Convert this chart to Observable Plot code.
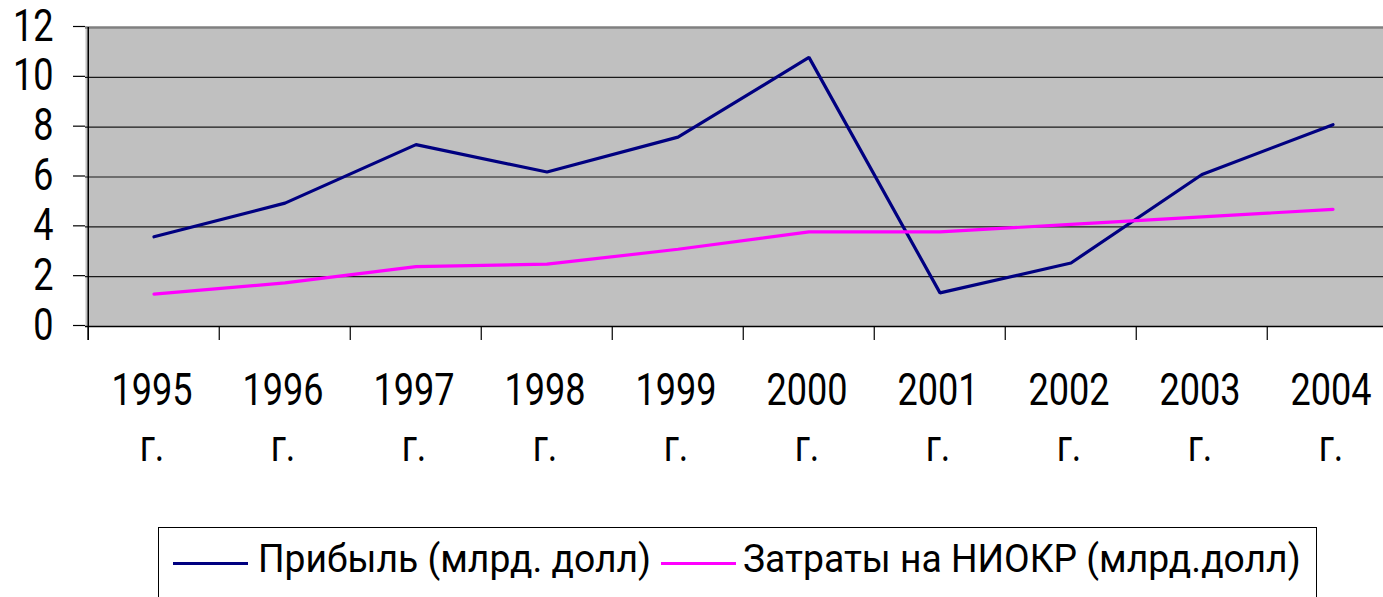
<!DOCTYPE html>
<html>
<head>
<meta charset="utf-8">
<script src="https://cdn.jsdelivr.net/npm/d3@7"></script>
<script src="https://cdn.jsdelivr.net/npm/@observablehq/plot@0.6"></script>
<style>
  html, body { margin: 0; padding: 0; background: #fff; overflow: hidden; }
  #chart { position: absolute; left: 0; top: 0; width: 1383px; overflow: hidden; }
  #chart svg { display: block; overflow: hidden; }
  #legend { position: absolute; left: 158px; top: 527px; width: 1159px; height: 100px;
            border: 1.5px solid #000; box-sizing: border-box; background: #fff;
            font-family: Roboto, "Liberation Sans", sans-serif; }
  #legend .sw { position: absolute; height: 3px; width: 75px; }
  #legend .lb { position: absolute; font-size: 39px; line-height: 39px; white-space: nowrap;
                transform: scaleX(0.955); transform-origin: left center; color: #000; }
</style>
</head>
<body>
<div id="chart"></div>
<div id="legend"></div>
<script>
// ---- data ----
const years = ["1995", "1996", "1997", "1998", "1999", "2000", "2001", "2002", "2003", "2004"];
const profit = [3.6, 4.95, 7.3, 6.2, 7.6, 10.8, 1.35, 2.55, 6.1, 8.1];
const rnd = [1.3, 1.75, 2.4, 2.5, 3.1, 3.8, 3.8, 4.1, 4.4, 4.7];
const seriesNames = ["Прибыль (млрд. долл)", "Затраты на НИОКР (млрд.долл)"];
const seriesColors = ["#000080", "#ff00ff"];
const yTicks = [0, 2, 4, 6, 8, 10, 12];
const yearSuffix = "г.";

const rows = [];
years.forEach((y, i) => rows.push({year: y, value: profit[i], series: seriesNames[0]}));
years.forEach((y, i) => rows.push({year: y, value: rnd[i], series: seriesNames[1]}));

const xRange = [85, 1400];
const band = (xRange[1] - xRange[0]) / years.length;
const font = "Roboto, 'Liberation Sans', sans-serif";

const chart = Plot.plot({
  width: 1383,
  height: 520,
  marginLeft: 85,
  marginRight: 0,
  marginTop: 27,
  marginBottom: 194,
  style: {background: "#fff", fontFamily: font, color: "#000", overflow: "hidden"},
  x: {type: "band", domain: years, range: xRange, padding: 0, axis: null, label: null},
  y: {domain: [0, 12], axis: null, label: null},
  color: {domain: seriesNames, range: seriesColors},
  marks: [
    Plot.frame({fill: "#c0c0c0", stroke: null}),
    Plot.ruleY(yTicks.filter(d => d > 0 && d < 12), {stroke: "#1a1a1a", strokeWidth: 1.2}),
    Plot.ruleY([12], {stroke: "#808080", strokeWidth: 2.5}),
    Plot.ruleY([0], {stroke: "#000", strokeWidth: 1.5}),
    // x-axis ticks at band boundaries
    Plot.ruleX(years, {x: d => d, dx: -band / 2, y1: 0, y2: 0, insetBottom: -14, stroke: "#000", strokeWidth: 1.2}),
    // left axis line
    Plot.ruleX([years[0]], {x: d => d, dx: -band / 2, y1: 12, y2: 0, insetBottom: -14, stroke: "#000", strokeWidth: 1.5}),
    Plot.axisY(yTicks, {label: null, tickSize: 12, tickPadding: 20, fontSize: 44, fontFamily: font, fill: "#000", stroke: "#000", strokeWidth: 1.2, dy: -1}),
    Plot.axisX(years, {label: null, tickSize: 0, tickPadding: 39, fontSize: 44, fontFamily: font, fill: "#000",
                       lineHeight: 1.27, dx: -2, tickFormat: d => `${d}\n${yearSuffix}`}),
    Plot.line(rows, {x: "year", y: "value", z: "series", stroke: "series", strokeWidth: 3.2, strokeLinejoin: "miter"})
  ]
});
document.getElementById("chart").appendChild(chart);

// horizontally condensed text, as in the reference
chart.querySelectorAll("text").forEach(t => {
  const tr = t.getAttribute("transform") || "";
  t.setAttribute("transform", (tr + " scale(0.82,1)").trim());
});

// ---- legend ----
const legend = document.getElementById("legend");
const swLeft = [14, 502];
const lbLeft = [99, 584];
seriesNames.forEach((name, i) => {
  const sw = document.createElement("div");
  sw.className = "sw";
  sw.style.left = swLeft[i] + "px";
  sw.style.top = "34px";
  sw.style.background = seriesColors[i];
  legend.appendChild(sw);
  const lb = document.createElement("div");
  lb.className = "lb";
  lb.style.left = lbLeft[i] + "px";
  lb.style.top = "12px";
  lb.textContent = name;
  legend.appendChild(lb);
});
</script>
</body>
</html>
